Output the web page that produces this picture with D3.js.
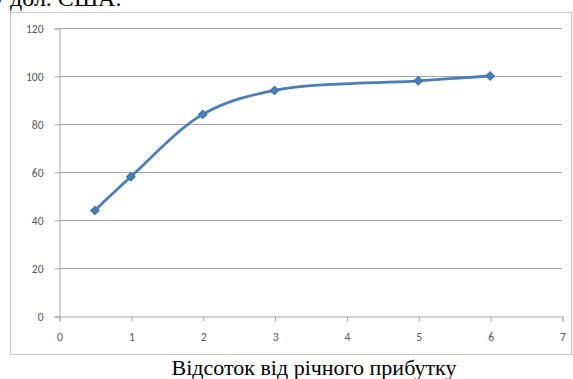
<!DOCTYPE html>
<html><head><meta charset="utf-8">
<script src="https://cdn.jsdelivr.net/npm/d3@7"></script>
<style>body{margin:0;background:#fff;}svg{display:block;}</style>
</head><body>
<script>
const xValues = [0.5, 1, 2, 3, 5, 6];
const yValues = [44, 58, 84, 94, 98, 100];
const xTicks = [0, 1, 2, 3, 4, 5, 6, 7];
const yTicks = [0, 20, 40, 60, 80, 100, 120];
const topText = "у дол. США.";
const xTitle = "Відсоток від річного прибутку";

const W = 573, H = 379;
const svg = d3.select("body").append("svg").attr("width", W).attr("height", H);

svg.append("text").attr("x", -8).attr("y", 6).attr("font-family", "Liberation Serif, serif")
  .attr("font-size", 24).attr("fill", "#000").text(topText);

svg.append("rect").attr("x", 10.5).attr("y", 12.5).attr("width", 561).attr("height", 342)
  .attr("fill", "#fff").attr("stroke", "#c8c8c8");

const x = d3.scaleLinear().domain([0, 7]).range([59, 562]);
const y = d3.scaleLinear().domain([0, 120]).range([316, 28]);

const grid = svg.append("g");
grid.selectAll("line").data(yTicks.filter(d => d > 0)).join("line")
  .attr("x1", x(0)).attr("x2", x(7)).attr("y1", d => Math.round(y(d)) + 0.5).attr("y2", d => Math.round(y(d)) + 0.5)
  .attr("stroke", "#a6a6a6").attr("stroke-width", 1);

const yAxis = svg.append("g").attr("transform", `translate(${x(0) + 0.5},0.5)`)
  .call(d3.axisLeft(y).tickValues(yTicks).tickFormat(d3.format("d")).tickSize(5).tickPadding(11));
const xAxis = svg.append("g").attr("transform", `translate(0.5,${Math.round(y(0)) + 0.5})`)
  .call(d3.axisBottom(x).tickValues(xTicks).tickFormat(d3.format("d")).tickSize(5).tickPadding(11));
[yAxis, xAxis].forEach(a => {
  a.select(".domain").attr("stroke", "#a6a6a6");
  a.selectAll(".tick line").attr("stroke", "#a6a6a6");
  a.selectAll("text").attr("fill", "#595959").attr("font-family", "Carlito, Liberation Sans, sans-serif").attr("font-size", 11.5);
});

const data = xValues.map((v, i) => [v, yValues[i]]);
svg.append("path").datum(data)
  .attr("d", d3.line().x(d => x(d[0])).y(d => y(d[1])).curve(d3.curveCatmullRom.alpha(0.5)))
  .attr("fill", "none").attr("stroke", "#4a7ebb").attr("stroke-width", 2.8);

svg.append("g").selectAll("path").data(data).join("path")
  .attr("transform", d => `translate(${x(d[0])},${y(d[1])}) rotate(45)`)
  .attr("d", d3.symbol(d3.symbolSquare, 36))
  .attr("fill", "#4a7ebb").attr("stroke", "#3d6fa8");

svg.append("text").attr("x", 314).attr("y", 375).attr("text-anchor", "middle")
  .attr("font-family", "Liberation Serif, serif").attr("font-size", 22).attr("fill", "#000").text(xTitle);
</script>
</body></html>
